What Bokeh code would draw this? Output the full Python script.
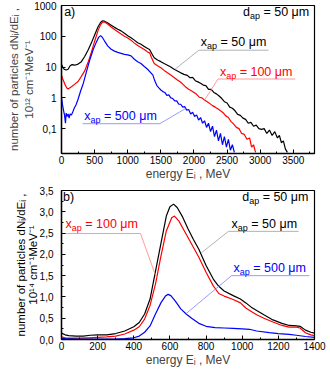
import math
from bokeh.plotting import figure
from bokeh.layouts import column
from bokeh.models import Range1d, FixedTicker, Label, Title
from bokeh.embed import file_html
from bokeh.resources import INLINE

FONT = "Liberation Sans"

# ---------------- panel a) data (log scale) ----------------
ea_black = [0, 20, 40, 70, 100, 130, 160, 200, 250, 300,
            350, 400, 450, 500, 550, 590, 620, 650, 700, 750,
            800, 850, 900, 950, 1000, 1050, 1100, 1150, 1200, 1250,
            1300, 1330, 1360, 1400, 1450, 1500, 1550, 1600, 1650, 1700,
            1750, 1800, 1850,
            1900, 1940, 1980, 2020, 2060, 2100, 2140, 2180, 2220, 2260,
            2300, 2340, 2380, 2420, 2460, 2500, 2540, 2580, 2620, 2660,
            2700, 2740, 2780, 2820, 2860, 2900, 2940, 2980, 3020, 3060,
            3100, 3140, 3180, 3220, 3260,
            3290, 3320, 3350, 3380, 3410]
na_black = [12, 10, 8.5, 8.0, 8.5, 11, 12, 11.5, 12.5, 15,
            22, 35, 60, 110, 200, 280, 320, 310, 270, 230,
            195, 170, 150, 125, 105, 90, 75, 62, 55, 47,
            40, 37, 28, 20, 17, 15, 13, 11.5, 10, 8.5,
            7.5, 6.5, 5.8,
            5.4, 4.5, 4.6, 3.6, 3.3, 3.0, 2.6, 2.5, 1.9, 1.9,
            1.5, 1.35, 1.15, 0.95, 0.75, 0.68, 0.5, 0.46, 0.38, 0.29,
            0.27, 0.22, 0.2, 0.15, 0.16, 0.12, 0.13, 0.1, 0.095, 0.1,
            0.07, 0.09, 0.06, 0.08, 0.05,
            0.06, 0.035, 0.04, 0.022, 0.017]

ea_red = [0, 20, 50, 80, 100, 150, 200, 250, 300, 350,
          400, 450, 500, 550, 590, 620, 650, 700, 750, 800,
          850, 900, 950, 1000, 1050, 1100, 1150, 1200, 1250, 1300,
          1330, 1360, 1400, 1450, 1500, 1550, 1600, 1650, 1700, 1750,
          1800, 1840,
          1880, 1920, 1960, 2000, 2040, 2080, 2120, 2160, 2200, 2240,
          2280, 2320, 2360, 2400, 2440, 2480, 2520, 2560, 2600, 2640,
          2680, 2720, 2760, 2800, 2840,
          2870, 2900, 2930]
na_red = [5.5, 4, 2.8, 2.1, 1.95, 2.3, 2.8, 3.4, 5, 7.5,
          14, 30, 68, 150, 240, 290, 290, 245, 200, 165,
          140, 118, 100, 88, 75, 60, 50, 43, 37, 31,
          29, 20, 13, 11, 9.5, 7.8, 6.5, 5.5, 4.6, 3.8,
          3.2, 2.7,
          2.2, 1.9, 1.7, 1.5, 1.3, 1.05, 1.0, 0.85, 0.75, 0.65,
          0.56, 0.5, 0.44, 0.38, 0.33, 0.26, 0.23, 0.17, 0.14, 0.11,
          0.1, 0.07, 0.065, 0.045, 0.05,
          0.025, 0.03, 0.017]

ea_blue = [0, 15, 30, 45, 60, 70, 85, 100, 115, 130,
           150, 170, 190, 220, 250, 290, 330, 380, 430, 480,
           520, 560, 590, 620, 650, 700, 750, 800, 850, 900,
           950, 1000, 1050, 1100, 1150, 1200, 1250, 1300, 1350, 1380,
           1410, 1440,
           1470, 1500, 1530, 1560, 1590, 1620, 1650, 1680, 1710, 1740,
           1770, 1800, 1830, 1860, 1890, 1920, 1950, 1980, 2010, 2040,
           2070, 2100, 2130, 2160, 2190, 2220, 2250, 2280, 2310, 2340,
           2370, 2400, 2430, 2460, 2490, 2520, 2550, 2580, 2610]
na_blue = [1.0, 0.6, 0.4, 0.28, 0.15, 0.32, 0.25, 0.3, 0.22, 0.3,
           0.28, 0.35, 0.45, 0.6, 0.9, 1.7, 3, 7.5, 18, 38,
           60, 92, 105, 90, 70, 48, 38, 33, 30, 28,
           26, 25, 23, 18, 15, 13, 10.5, 8.5, 6.5, 5.5,
           3.5, 2.5,
           2.1, 1.8, 1.6, 1.5, 1.2, 1.25, 1.0, 0.95, 0.8, 0.8,
           0.62, 0.62, 0.5, 0.52, 0.4, 0.42, 0.3, 0.34, 0.25, 0.28,
           0.19, 0.23, 0.15, 0.18, 0.11, 0.15, 0.08, 0.12, 0.055, 0.09,
           0.04, 0.07, 0.03, 0.055, 0.025, 0.045, 0.02, 0.03, 0.017]

# ---------------- panel b) data (linear scale, x10^14) ----------------
eb_black = [0, 20, 40, 80, 120, 160, 200, 250, 300, 350,
            400, 430, 460, 490, 520, 550, 580, 600, 620, 640,
            670, 700, 730, 760, 800, 840, 870, 900, 950, 990,
            1020, 1050, 1080, 1120, 1170, 1220, 1260, 1300, 1320, 1350,
            1380, 1400]
nb_black = [0.15, 0.11, 0.09, 0.08, 0.08, 0.1, 0.11, 0.11, 0.14, 0.2,
            0.3, 0.4, 0.6, 0.95, 1.6, 2.25, 2.9, 3.12, 3.18, 3.1,
            2.88, 2.6, 2.35, 2.12, 1.74, 1.42, 1.25, 1.14, 1.03, 0.95,
            0.86, 0.76, 0.68, 0.58, 0.46, 0.38, 0.33, 0.32, 0.31, 0.22,
            0.17, 0.15]

eb_red = [0, 20, 50, 100, 150, 200, 250, 300, 350, 400,
          430, 460, 490, 520, 550, 580, 610, 625, 650, 680,
          710, 760, 800, 840, 870, 900, 950, 990, 1020, 1050,
          1080, 1120, 1170, 1220, 1260, 1300, 1320, 1350, 1380, 1400]
nb_red = [0.06, 0.04, 0.03, 0.03, 0.04, 0.05, 0.06, 0.08, 0.13, 0.22,
          0.3, 0.48, 0.8, 1.3, 1.95, 2.55, 2.86, 2.9, 2.78, 2.55,
          2.32, 1.93, 1.58, 1.26, 1.08, 1.02, 0.94, 0.86, 0.74, 0.66,
          0.58, 0.5, 0.41, 0.33, 0.29, 0.29, 0.27, 0.16, 0.11, 0.09]

eb_blue = [0, 100, 200, 300, 350, 400, 430, 460, 490, 520,
           550, 575, 590, 605, 630, 660, 690, 720, 760, 800,
           850, 900, 950, 1000, 1040, 1080, 1150, 1200, 1260, 1300,
           1350, 1400]
nb_blue = [0.02, 0.01, 0.01, 0.01, 0.02, 0.04, 0.08, 0.17, 0.32, 0.6,
           0.86, 1.02, 1.06, 1.03, 0.9, 0.72, 0.6, 0.5, 0.38, 0.31,
           0.28, 0.27, 0.26, 0.25, 0.24, 0.2, 0.16, 0.14, 0.12, 0.1,
           0.07, 0.05]

# tick labels
ya_ticks = [0.1, 1, 10, 100, 1000]
ya_labels = ["0,1", "1", "10", "100", "1000"]
xa_ticks = [0, 500, 1000, 1500, 2000, 2500, 3000, 3500]
xb_ticks = [0, 200, 400, 600, 800, 1000, 1200, 1400]
yb_ticks = [0, 0.5, 1.0, 1.5, 2.0, 2.5, 3.0, 3.5]
yb_labels = ["0,0", "0,5", "1,0", "1,5", "2,0", "2,5", "3,0", "3,5"]

BLACK, RED, BLUE = "#000000", "#ff0000", "#0000ff"
NB = "\u00a0"


def style_axes(p, ystandoff):
    for ax in (p.xaxis[0], p.yaxis[0]):
        ax.major_tick_in = 4
        ax.major_tick_out = 0
        ax.minor_tick_in = 2
        ax.minor_tick_out = 0
        ax.axis_line_width = 1.4
        ax.major_tick_line_width = 1
        ax.minor_tick_line_width = 1
        ax.major_label_text_font = FONT
        ax.major_label_text_font_size = "10px"
        ax.major_label_text_color = "black"
        ax.axis_label_text_font = FONT
        ax.axis_label_text_font_size = "12px"
        ax.axis_label_text_font_style = "normal"
    p.xaxis.major_label_standoff = 2
    p.yaxis.major_label_standoff = ystandoff
    p.xaxis.axis_label_standoff = 0
    p.yaxis.axis_label_standoff = 0
    p.xaxis.axis_label = "energy E\u1d62 , MeV"
    p.xgrid.visible = False
    p.ygrid.visible = False
    p.outline_line_color = "black"
    p.outline_line_width = 1.2
    p.background_fill_color = "white"
    p.border_fill_color = "white"


def sub_text(p, x, y, main, sub, rest, color, size=12.5):
    w_main = 0.5 * size if main == "x" else 0.556 * size
    ssize = size * 0.72
    w_sub = 1.112 * ssize
    common = dict(text_font=FONT, text_color=color, text_baseline="middle",
                  text_align="left")
    p.add_layout(Label(x=x, y=y, text=main, text_font_size=f"{size}px", **common))
    p.add_layout(Label(x=x, y=y, x_offset=w_main, y_offset=-4, text=sub,
                       text_font_size=f"{ssize:.1f}px", **common))
    p.add_layout(Label(x=x, y=y, x_offset=w_main + w_sub, text=NB + rest,
                       text_font_size=f"{size}px", **common))


def y_titles(p, line1, line2, s2, s1):
    # the first title added sits next to the axis
    for t, s in ((line2, s2), (line1, s1)):
        p.add_layout(Title(text=t, align="center", text_font=FONT,
                           text_font_size="11.5px", text_font_style="normal",
                           text_color="black", standoff=s, offset=0), "left")


# ---------------- panel a ----------------
pa = figure(width=330, height=183, y_axis_type="log",
            x_range=Range1d(0, 3820), y_range=Range1d(0.0156, 1000),
            output_backend="svg", toolbar_location=None,
            min_border_left=58, min_border_right=6, min_border_top=5,
            min_border_bottom=28)
style_axes(pa, 5)
pa.xaxis.ticker = FixedTicker(ticks=xa_ticks,
                              minor_ticks=[t + 250 for t in xa_ticks])
pa.yaxis.ticker = FixedTicker(ticks=ya_ticks)
pa.yaxis.major_label_overrides = {t: l for t, l in zip(ya_ticks, ya_labels)}
pa.yaxis.axis_label = ("number of particles dN\u1d62/dE\u1d62 ,\n"
                       "10\u00b9\u00b2 cm\u207b\u00b9MeV\u207b\u00b9")
pa.yaxis.axis_label_text_font_size = "11.5px"
pa.yaxis.axis_label_text_line_height = 1.3
pa.yaxis.axis_label_standoff = -4

pa.line(ea_black, na_black, line_color=BLACK, line_width=1.2)
pa.line(ea_red, na_red, line_color=RED, line_width=1.2)
pa.line(ea_blue, na_blue, line_color=BLUE, line_width=1.2)

# leader lines + underlines (panel a)
pa.line([1715, 2075, 3127], [8.6, 35.3, 35.3], line_color="#a0a0a0", line_width=0.8)
pa.line([2161, 2363, 3530], [0.86, 4.1, 4.1], line_color="#ff8080", line_width=0.8)
pa.line([1873, 1484, 317], [0.45, 0.145, 0.145], line_color="#8080ff", line_width=0.8)

sub_text(pa, 2104, 64, "x", "ap", "= 50 \u03bcm", BLACK)
sub_text(pa, 2392, 7.05, "x", "ap", "= 100 \u03bcm", RED)
sub_text(pa, 345, 0.26, "x", "ap", "= 500 \u03bcm", BLUE)
sub_text(pa, 2740, 600, "d", "ap", "= 50 \u03bcm", BLACK)
pa.add_layout(Label(x=40, y=600, text="a)", text_font=FONT, text_font_size="12.5px",
                    text_baseline="middle", text_align="left", text_color="black"))

# ---------------- panel b ----------------
pb = figure(width=330, height=186,
            x_range=Range1d(0, 1400), y_range=Range1d(0, 3.5),
            output_backend="svg", toolbar_location=None,
            min_border_left=61, min_border_right=16, min_border_top=7,
            min_border_bottom=30)
style_axes(pb, 8)
pb.xaxis.ticker = FixedTicker(ticks=xb_ticks,
                              minor_ticks=[t + 100 for t in xb_ticks])
pb.yaxis.ticker = FixedTicker(ticks=yb_ticks,
                              minor_ticks=[t + 0.25 for t in yb_ticks])
pb.yaxis.major_label_overrides = {t: l for t, l in zip(yb_ticks, yb_labels)}
y_titles(pb, "number of particles dN\u1d62/dE\u1d62 ,",
         "10\u00b9\u2074 cm\u207b\u00b9MeV\u207b\u00b9", -4, 0)

pb.line(eb_black, nb_black, line_color=BLACK, line_width=1.2)
pb.line(eb_red, nb_red, line_color=RED, line_width=1.2)
pb.line(eb_blue, nb_blue, line_color=BLUE, line_width=1.2)

pb.line([775, 924, 1312], [2.04, 2.54, 2.54], line_color="#a0a0a0", line_width=0.8)
pb.line([690, 941, 1372], [0.61, 1.5, 1.5], line_color="#8080ff", line_width=0.8)
pb.line([525, 437, 0], [1.45, 2.49, 2.49], line_color="#ff8080", line_width=0.8)

sub_text(pb, 941, 2.72, "x", "ap", "= 50 \u03bcm", BLACK)
sub_text(pb, 952, 1.69, "x", "ap", "= 500 \u03bcm", BLUE)
sub_text(pb, 22, 2.72, "x", "ap", "= 100 \u03bcm", RED)
sub_text(pb, 1000, 3.34, "d", "ap", "= 50 \u03bcm", BLACK)
pb.add_layout(Label(x=8, y=3.34, text="b)", text_font=FONT, text_font_size="12.5px",
                    text_baseline="middle", text_align="left", text_color="black"))

layout = column(pa, pb, spacing=0)
open("out.html", "w").write(file_html(layout, INLINE))
